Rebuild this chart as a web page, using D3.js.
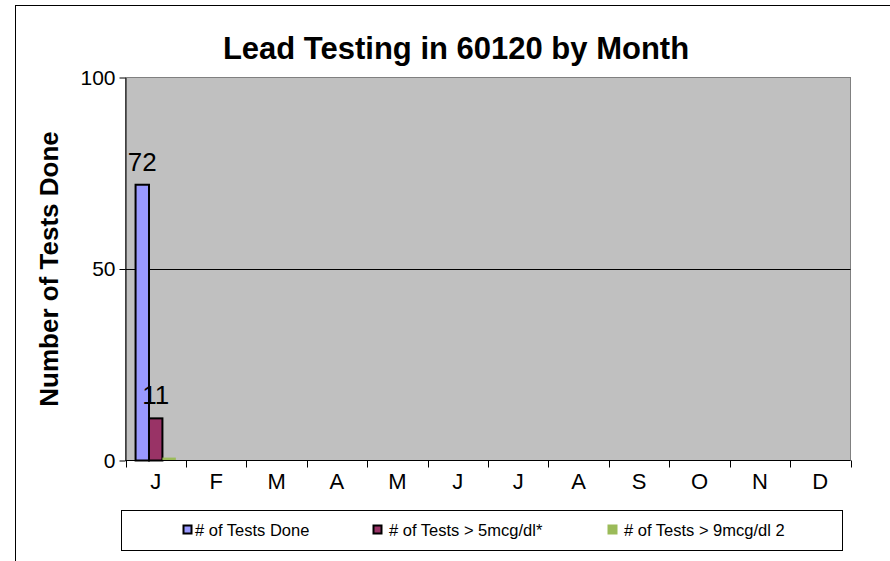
<!DOCTYPE html>
<html>
<head>
<meta charset="utf-8">
<script src="https://cdn.jsdelivr.net/npm/d3@7"></script>
<style>
  body { margin: 0; background: #fff; }
  text { font-family: "Liberation Sans", Arial, sans-serif; }
</style>
</head>
<body>
<div id="main"></div>
<script>
const months = ["J", "F", "M", "A", "M", "J", "J", "A", "S", "O", "N", "D"];
const seriesNames = ["# of Tests Done", "# of Tests > 5mcg/dl*", "# of Tests > 9mcg/dl 2"];
const seriesColors = ["#9999FF", "#993366", "#9BBB59"];
const testsDone = [72, null, null, null, null, null, null, null, null, null, null, null];
const testsOver5 = [11, null, null, null, null, null, null, null, null, null, null, null];
const testsOver9 = [0.5, null, null, null, null, null, null, null, null, null, null, null];
const yTicks = [0, 50, 100];

const W = 890, H = 561;
const plot = { left: 125.5, top: 77.5, right: 850.5, bottom: 460.5 };

const svg = d3.select("#main").append("svg")
  .attr("width", W).attr("height", H);

// chart area border
svg.append("rect")
  .attr("x", 15.5).attr("y", 5.5)
  .attr("width", W + 20).attr("height", H + 20)
  .attr("fill", "#fff").attr("stroke", "#000").attr("stroke-width", 1);

svg.append("text")
  .attr("x", 456).attr("y", 59)
  .attr("text-anchor", "middle")
  .attr("font-size", 31).attr("font-weight", "bold")
  .text("Lead Testing in 60120 by Month");

const x0 = d3.scaleBand().domain(d3.range(months.length))
  .range([plot.left, plot.right]).paddingInner(0).paddingOuter(0);
const x1 = d3.scaleBand().domain([0, 1, 2])
  .range([x0.bandwidth() / 6, x0.bandwidth() * 5 / 6]);
const y = d3.scaleLinear().domain([0, 100]).range([plot.bottom, plot.top]);

// plot area
svg.append("rect")
  .attr("x", plot.left).attr("y", plot.top)
  .attr("width", plot.right - plot.left).attr("height", plot.bottom - plot.top)
  .attr("fill", "#C0C0C0").attr("stroke", "#808080").attr("stroke-width", 1);

// gridlines
svg.append("g").selectAll("line")
  .data(yTicks.filter(d => d > 0 && d < 100))
  .join("line")
  .attr("x1", plot.left).attr("x2", plot.right)
  .attr("y1", d => Math.round(y(d)) + 0.5).attr("y2", d => Math.round(y(d)) + 0.5)
  .attr("stroke", "#000");

// bars
const series = [testsDone, testsOver5, testsOver9];
series.forEach((vals, s) => {
  const g = svg.append("g");
  g.selectAll("rect")
    .data(vals.map((v, i) => ({ i, v })).filter(d => d.v != null))
    .join("rect")
    .attr("x", d => x0(d.i) + x1(s))
    .attr("y", d => y(d.v) - (s < 2 ? 0 : 1))
    .attr("width", x1.bandwidth())
    .attr("height", d => y(0) - y(d.v) + (s < 2 ? 0 : 1))
    .attr("fill", seriesColors[s])
    .attr("stroke", s < 2 ? "#000" : "none")
    .attr("stroke-width", 2);
  if (s < 2) {
    g.selectAll("text")
      .data(vals.map((v, i) => ({ i, v })).filter(d => d.v != null))
      .join("text")
      .attr("x", d => x0(d.i) + x1(s) + x1.bandwidth() / 2)
      .attr("y", d => y(d.v) - 14)
      .attr("text-anchor", "middle")
      .attr("font-size", 26)
      .text(d => d.v);
  }
});

// y axis
const yAxis = svg.append("g")
  .attr("transform", `translate(${plot.left},0)`)
  .call(d3.axisLeft(y).tickValues(yTicks).tickSize(6).tickSizeOuter(0).tickPadding(4));
yAxis.select(".domain").attr("stroke", "#000");
yAxis.selectAll("text").attr("font-size", 21);

// x axis
const xAxisG = svg.append("g").attr("transform", `translate(0,${plot.bottom})`);
xAxisG.append("line")
  .attr("x1", plot.left).attr("x2", plot.right).attr("stroke", "#000");
xAxisG.selectAll(".tick")
  .data(d3.range(months.length + 1))
  .join("line")
  .attr("x1", d => Math.round(plot.left + d * x0.bandwidth()) + 0.5)
  .attr("x2", d => Math.round(plot.left + d * x0.bandwidth()) + 0.5)
  .attr("y1", 0).attr("y2", 7).attr("stroke", "#000");
xAxisG.selectAll("text")
  .data(months)
  .join("text")
  .attr("x", (d, i) => x0(i) + x0.bandwidth() / 2)
  .attr("y", 28)
  .attr("text-anchor", "middle")
  .attr("font-size", 22)
  .text(d => d);

// y title
svg.append("text")
  .attr("transform", "translate(58,269) rotate(-90)")
  .attr("text-anchor", "middle")
  .attr("font-size", 26).attr("font-weight", "bold")
  .text("Number of Tests Done");

// legend
const leg = svg.append("g");
leg.append("rect")
  .attr("x", 121.5).attr("y", 510.5).attr("width", 721).attr("height", 40)
  .attr("fill", "#fff").attr("stroke", "#000");
const legX = [183, 373, 608];
const textX = [195, 389, 624];
seriesNames.forEach((name, s) => {
  const framed = s < 2;
  leg.append("rect")
    .attr("x", framed ? legX[s] + 0.5 : legX[s] - 0.5)
    .attr("y", framed ? 525.5 : 524.5)
    .attr("width", framed ? 8 : 10).attr("height", framed ? 8 : 10)
    .attr("fill", seriesColors[s])
    .attr("stroke", framed ? "#000" : "none").attr("stroke-width", 2);
  leg.append("text")
    .attr("x", textX[s]).attr("y", 536)
    .attr("font-size", 16.5)
    .text(name);
});
</script>
</body>
</html>
